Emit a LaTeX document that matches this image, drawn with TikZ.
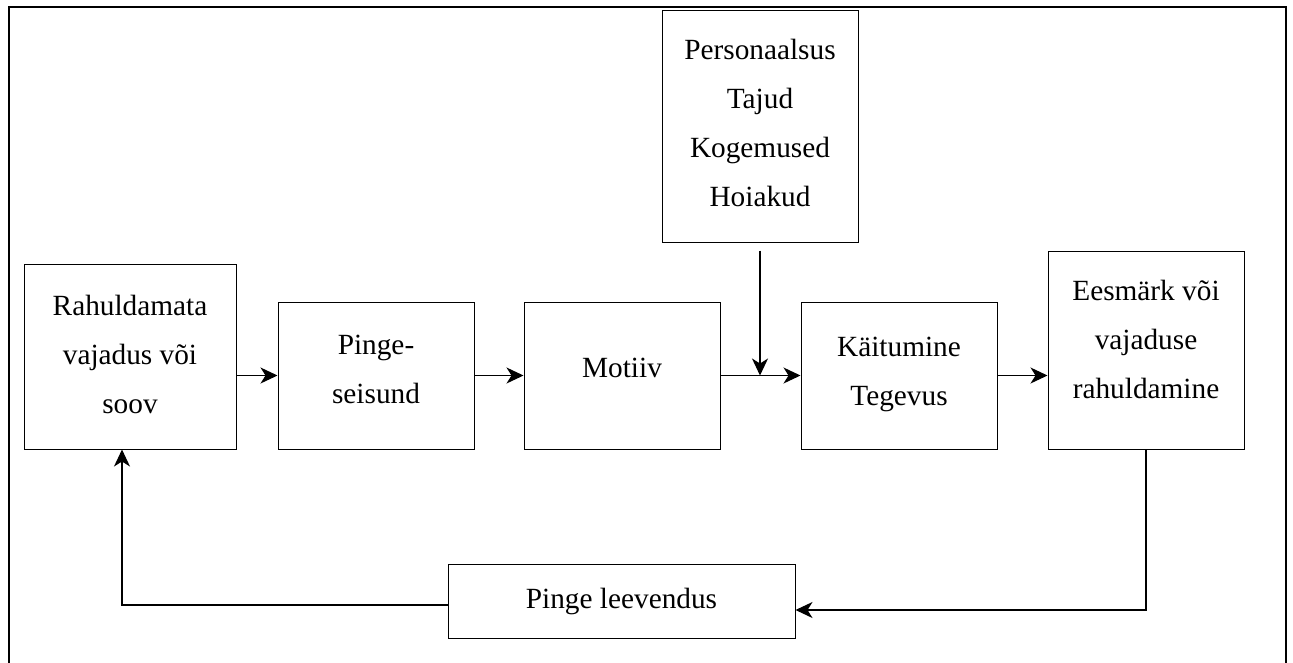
\documentclass[tikz,border=0pt]{standalone}
\usepackage{fontspec}
\setmainfont{Liberation Serif}
\usetikzlibrary{arrows.meta,positioning}

\begin{document}
\begin{tikzpicture}[x=1pt,y=-1pt,% one unit = one pixel of the sketch, y runs down
			every node/.style={
				rectangle,draw=black,line width=1pt,
				align=center,  		% so that "\\" breaks the lines
				inner sep=0pt,
				font=\fontsize{29.3pt}{49pt}\selectfont
			},
			box/.style={minimum width=196pt,minimum height=147pt},
			lift/.style={text depth=#1},	% pushes the text a bit up in its box
			every edge/.style={draw,line width=1.3pt},
			>={Stealth[length=17pt,width=16pt,inset=5pt]}
		]
		\useasboundingbox (0,0) rectangle (1293,662);
		\draw[line width=2pt] (9,680) -- (9,7) -- (1286,7) -- (1286,680);

		\node[minimum width=212pt,minimum height=185pt,lift=4pt](Vajadus) at (130,356.5){Rahuldamata \\ vajadus või \\ soov};
		\node[box,lift=12pt](Pinge) at (376,375.5){Pinge- \\ seisund};
		\node[box,lift=16pt](Motiiv)[right=49pt of Pinge]{Motiiv};
		\node[box,lift=8pt](Kaitumine)[right=80pt of Motiiv]{Käitumine \\ Tegevus};
		\node[box,minimum height=198pt,lift=22pt](Eesmark) at (1146,350){Eesmärk või \\ vajaduse \\ rahuldamine};
		\node[box,minimum height=232pt,lift=6pt](Isik) at (760,126){Personaalsus \\ Tajud \\ Kogemused \\ Hoiakud};
		\node[minimum width=347pt,minimum height=74pt](Leevendus) at (621.5,601){Pinge leevendus};

		\path[->]
		(Vajadus.east |- Pinge.west) edge (Pinge)
		(Pinge) edge (Motiiv)
		(Motiiv) edge (Kaitumine)
		(Kaitumine) edge (Kaitumine.east -| Eesmark.west)
		([yshift=-8pt]Isik.south) edge (Isik.south |- Motiiv.east)
		;
		\draw[->,line width=1.3pt] (Eesmark.south) |- ([yshift=-9pt]Leevendus.east);
		\draw[->,line width=1.3pt] ([yshift=-4pt]Leevendus.west) -| ([xshift=-8pt]Vajadus.south);
	\end{tikzpicture}
\end{document}
